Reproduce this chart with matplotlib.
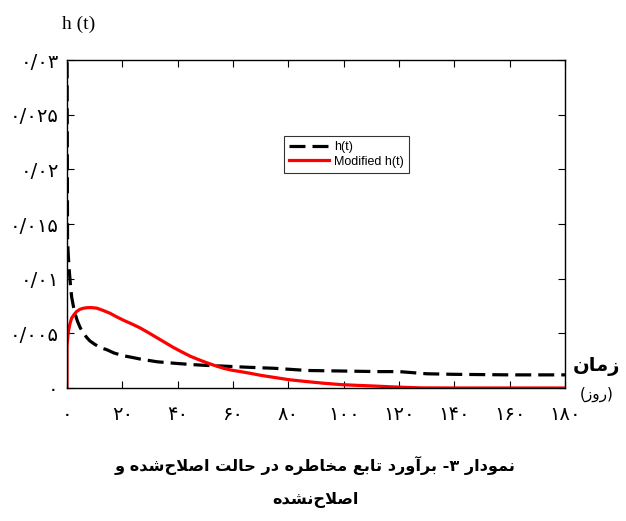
import numpy as np
import matplotlib
matplotlib.use('Agg')
import matplotlib.pyplot as plt

# data
t_h = [0, 0.2, 0.5, 0.9, 1.3, 1.7, 2.3, 2.9, 3.8, 4.8, 6, 7.2, 8.3, 10, 12, 14.4, 17, 20.4, 23.5, 26.4,
       32.5, 38.5, 44.6, 50, 56.6, 65, 75, 87, 100, 112, 120, 125, 130, 140, 160, 180]
h_vals = [0.034, 0.0135, 0.012, 0.0105, 0.0093, 0.0083, 0.0075, 0.0068, 0.0061, 0.0055, 0.0050, 0.0046,
          0.0043, 0.0040, 0.0037, 0.0035, 0.0032, 0.00295, 0.0028, 0.00265, 0.0024, 0.00227, 0.00215,
          0.00207, 0.002, 0.0019, 0.0018, 0.0016, 0.00155, 0.0015, 0.0015, 0.0014, 0.0013, 0.00125,
          0.0012, 0.0012]

t_mod = [0, 0.01, 0.3, 0.6, 1.1, 1.7, 2.5, 3.5, 4.7, 6, 7.5, 9, 10.8, 13, 15.6, 18, 20.4, 23.5, 26.4,
         29.5, 32.5, 35.5, 38.5, 41.5, 44.6, 47.5, 50.6, 53.5, 56.6, 59.5, 62.7, 66.3, 70, 74.8, 80.5,
         86.9, 93, 99, 105, 111, 117, 123, 128, 140, 180]
mod_vals = [0, 0.0038, 0.0047, 0.0053, 0.0059, 0.0064, 0.0067, 0.0070, 0.0072, 0.0073, 0.00735, 0.00735,
            0.0073, 0.0071, 0.00683, 0.0065, 0.0062, 0.00585, 0.0055, 0.00505, 0.0046, 0.00415, 0.0037,
            0.0033, 0.0029, 0.0026, 0.0023, 0.00205, 0.0018, 0.00163, 0.0015, 0.00134, 0.00116, 0.00097,
            0.00075, 0.00058, 0.00043, 0.00031, 0.00024, 0.00018, 0.00011, 0.00005, 0.00001, 0.0, 0.0]

xticks = list(range(0, 181, 20))
yticks = [0, 0.005, 0.01, 0.015, 0.02, 0.025, 0.03]
ytick_labels = ['0', '0/005', '0/01', '0/015', '0/02', '0/025', '0/03']

title1 = 'نمودار ۳- برآورد تابع مخاطره در حالت اصلاح\u200cشده و'
title2 = 'اصلاح\u200cنشده'
xlab = 'زمان'
xunit = '(روز)'

# presentation forms: isolated, final, initial, medial
FORMS = {
    'ا': ('\uFE8D', '\uFE8E', None, None),
    'آ': ('\uFE81', '\uFE82', None, None),
    'ب': ('\uFE8F', '\uFE90', '\uFE91', '\uFE92'),
    'ت': ('\uFE95', '\uFE96', '\uFE97', '\uFE98'),
    'ح': ('\uFEA1', '\uFEA2', '\uFEA3', '\uFEA4'),
    'خ': ('\uFEA5', '\uFEA6', '\uFEA7', '\uFEA8'),
    'د': ('\uFEA9', '\uFEAA', None, None),
    'ر': ('\uFEAD', '\uFEAE', None, None),
    'ز': ('\uFEAF', '\uFEB0', None, None),
    'ش': ('\uFEB5', '\uFEB6', '\uFEB7', '\uFEB8'),
    'ص': ('\uFEB9', '\uFEBA', '\uFEBB', '\uFEBC'),
    'ط': ('\uFEC1', '\uFEC2', '\uFEC3', '\uFEC4'),
    'ع': ('\uFEC9', '\uFECA', '\uFECB', '\uFECC'),
    'ل': ('\uFEDD', '\uFEDE', '\uFEDF', '\uFEE0'),
    'م': ('\uFEE1', '\uFEE2', '\uFEE3', '\uFEE4'),
    'ن': ('\uFEE5', '\uFEE6', '\uFEE7', '\uFEE8'),
    'ه': ('\uFEE9', '\uFEEA', '\uFEEB', '\uFEEC'),
    'و': ('\uFEED', '\uFEEE', None, None),
}
LAMALEF = {'ا': ('\uFEFB', '\uFEFC'), 'آ': ('\uFEF5', '\uFEF6')}
MIRROR = {'(': ')', ')': '('}


def joins_left(c):
    return c in FORMS and FORMS[c][2] is not None


def shape(s):
    # join letters + reverse, matplotlib does no RTL shaping itself
    out = []
    i = 0
    n = len(s)
    while i < n:
        c = s[i]
        if c not in FORMS:
            if c != '\u200c':
                out.append(MIRROR.get(c, c))
            i += 1
            continue
        right = i > 0 and joins_left(s[i - 1])
        if c == 'ل' and i + 1 < n and s[i + 1] in LAMALEF:
            out.append(LAMALEF[s[i + 1]][1 if right else 0])
            i += 2
            continue
        left = joins_left(c) and i + 1 < n and s[i + 1] in FORMS
        f = FORMS[c]
        if right and left:
            g = f[3]
        elif right:
            g = f[1]
        elif left:
            g = f[2]
        else:
            g = f[0]
        out.append(g)
        i += 1
    return ''.join(reversed(out))


def fa_digits(s):
    return s.translate(str.maketrans('0123456789', '۰۱۲۳۴۵۶۷۸۹'))


plt.rcParams['font.family'] = ['DejaVu Sans']

fig = plt.figure(figsize=(6.26, 5.21), dpi=100)
ax = fig.add_axes([0.107, 0.2553, 0.7956, 0.6295])

ax.plot(t_h, h_vals, color='black', lw=2.3, ls=(0, (5, 2.2)), label='h(t)')
ax.plot(t_mod, mod_vals, color='#ff0000', lw=2.3, label='Modified h(t)')

ax.set_xlim(0, 180)
ax.set_ylim(0, 0.03)
ax.set_xticks(xticks)
ax.set_xticklabels([fa_digits(str(x)) for x in xticks], fontsize=14)
ax.set_yticks(yticks)
ax.set_yticklabels([fa_digits(s) for s in ytick_labels], fontsize=14)
ax.tick_params(direction='in', top=True, right=True, length=5, width=0.8)
ax.tick_params(axis='x', pad=12)
ax.tick_params(axis='y', pad=6)
for sp in ax.spines.values():
    sp.set_linewidth(1.0)

leg = ax.legend(loc='upper left', bbox_to_anchor=(0.424, 0.787), frameon=True, fancybox=False,
                edgecolor='black', prop={'family': 'Liberation Sans', 'size': 9},
                handlelength=3.2, borderpad=0.4, labelspacing=0.2, handletextpad=0.4)
leg.get_frame().set_linewidth(0.8)

fig.text(79 / 626, 1 - 24 / 521, 'h (t)', ha='center', va='center', fontsize=14,
         family='Liberation Serif')
fig.text(597 / 626, 1 - 367 / 521, shape(xlab), ha='center', va='center', fontsize=14,
         fontweight='bold')
fig.text(597 / 626, 1 - 394 / 521, shape(xunit), ha='center', va='center', fontsize=11)
fig.text(315 / 626, 1 - 465 / 521, shape(title1), ha='center', va='center', fontsize=11.6,
         fontweight='bold')
fig.text(315 / 626, 1 - 500 / 521, shape(title2), ha='center', va='center', fontsize=11.6,
         fontweight='bold')

fig.savefig('out.png', dpi=100)
